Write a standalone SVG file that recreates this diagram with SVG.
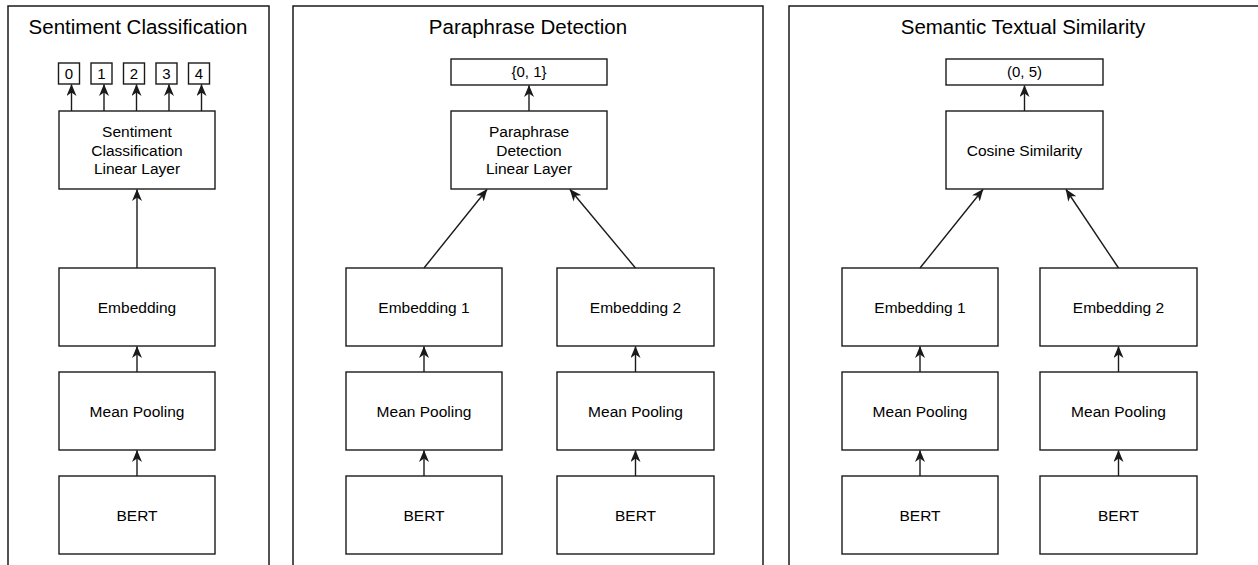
<svg xmlns="http://www.w3.org/2000/svg" width="1258" height="565" viewBox="0 0 1258 565">
<style>
.panel{fill:#fff;stroke:#1a1a1a;stroke-width:1.5}
.box{fill:#fff;stroke:#1a1a1a;stroke-width:1.4}
.t{font-family:"Liberation Sans",Arial,sans-serif;font-size:15.5px;fill:#000;text-anchor:middle}
.title{font-family:"Liberation Sans",Arial,sans-serif;font-size:20.5px;fill:#000;text-anchor:middle}
.s{font-family:"Liberation Sans",Arial,sans-serif;font-size:15px;fill:#000;text-anchor:middle}
.c{fill:none;stroke:#1a1a1a;stroke-width:1.4;marker-end:url(#ah)}
</style>
<defs>
<marker id="ah" markerUnits="userSpaceOnUse" markerWidth="12" markerHeight="10" viewBox="0 0 12 10" refX="11.5" refY="5" orient="auto">
<path d="M0,0 L12,5 L0,10 L3.5,5 z" fill="#1a1a1a"/>
</marker>
</defs>
<rect width="1258" height="565" fill="#fff"/>
<g id="panel-sentiment">
<rect class="panel" x="8" y="6" width="261" height="600"/>
<text class="title" x="138" y="34">Sentiment Classification</text>
</g>
<g id="panel-paraphrase">
<rect class="panel" x="293" y="6" width="470" height="600"/>
<text class="title" x="528" y="34">Paraphrase Detection</text>
</g>
<g id="panel-sts">
<rect class="panel" x="789" y="6" width="500" height="600"/>
<text class="title" x="1023" y="34">Semantic Textual Similarity</text>
</g>

<g id="s-out0"><rect class="box" x="58.5" y="63" width="21" height="21"/><text class="s" x="69" y="79">0</text></g>
<g id="s-out1"><rect class="box" x="91" y="63" width="21" height="21"/><text class="s" x="101.5" y="79">1</text></g>
<g id="s-out2"><rect class="box" x="123.5" y="63" width="21" height="21"/><text class="s" x="134" y="79">2</text></g>
<g id="s-out3"><rect class="box" x="156" y="63" width="21" height="21"/><text class="s" x="166.5" y="79">3</text></g>
<g id="s-out4"><rect class="box" x="188.5" y="63" width="21" height="21"/><text class="s" x="199" y="79">4</text></g>
<g id="s-linear"><rect class="box" x="59" y="111" width="156" height="78"/>
<text class="t" x="137" y="137">Sentiment</text><text class="t" x="137" y="155.5">Classification</text><text class="t" x="137" y="174">Linear Layer</text></g>
<g id="s-emb"><rect class="box" x="59" y="268" width="156" height="78"/><text class="t" x="137" y="312.5">Embedding</text></g>
<g id="s-pool"><rect class="box" x="59" y="372" width="156" height="78"/><text class="t" x="137" y="416.5">Mean Pooling</text></g>
<g id="s-bert"><rect class="box" x="59" y="476" width="156" height="78"/><text class="t" x="137" y="520.5">BERT</text></g>

<g id="p-out"><rect class="box" x="451" y="59" width="156" height="26"/><text class="s" x="529" y="77">{0, 1}</text></g>
<g id="p-linear"><rect class="box" x="451" y="111" width="156" height="78"/>
<text class="t" x="529" y="137">Paraphrase</text><text class="t" x="529" y="155.5">Detection</text><text class="t" x="529" y="174">Linear Layer</text></g>
<g id="p-emb1"><rect class="box" x="346" y="268" width="156" height="78"/><text class="t" x="424" y="312.5">Embedding 1</text></g>
<g id="p-pool1"><rect class="box" x="346" y="372" width="156" height="78"/><text class="t" x="424" y="416.5">Mean Pooling</text></g>
<g id="p-bert1"><rect class="box" x="346" y="476" width="156" height="78"/><text class="t" x="424" y="520.5">BERT</text></g>
<g id="p-emb2"><rect class="box" x="557" y="268" width="157" height="78"/><text class="t" x="635.5" y="312.5">Embedding 2</text></g>
<g id="p-pool2"><rect class="box" x="557" y="372" width="157" height="78"/><text class="t" x="635.5" y="416.5">Mean Pooling</text></g>
<g id="p-bert2"><rect class="box" x="557" y="476" width="157" height="78"/><text class="t" x="635.5" y="520.5">BERT</text></g>

<g id="t-out"><rect class="box" x="946" y="59" width="157" height="26"/><text class="s" x="1024.5" y="77">(0, 5)</text></g>
<g id="t-cos"><rect class="box" x="946" y="111" width="157" height="78"/><text class="t" x="1024.5" y="155.5">Cosine Similarity</text></g>
<g id="t-emb1"><rect class="box" x="842" y="268" width="156" height="78"/><text class="t" x="920" y="312.5">Embedding 1</text></g>
<g id="t-pool1"><rect class="box" x="842" y="372" width="156" height="78"/><text class="t" x="920" y="416.5">Mean Pooling</text></g>
<g id="t-bert1"><rect class="box" x="842" y="476" width="156" height="78"/><text class="t" x="920" y="520.5">BERT</text></g>
<g id="t-emb2"><rect class="box" x="1040" y="268" width="157" height="78"/><text class="t" x="1118.5" y="312.5">Embedding 2</text></g>
<g id="t-pool2"><rect class="box" x="1040" y="372" width="157" height="78"/><text class="t" x="1118.5" y="416.5">Mean Pooling</text></g>
<g id="t-bert2"><rect class="box" x="1040" y="476" width="157" height="78"/><text class="t" x="1118.5" y="520.5">BERT</text></g>

<g id="connectors">
<line class="c" x1="71.5" y1="111" x2="71.5" y2="84.5"/>
<line class="c" x1="104" y1="111" x2="104" y2="84.5"/>
<line class="c" x1="136.5" y1="111" x2="136.5" y2="84.5"/>
<line class="c" x1="169" y1="111" x2="169" y2="84.5"/>
<line class="c" x1="201.5" y1="111" x2="201.5" y2="84.5"/>
<line class="c" x1="137" y1="268" x2="137" y2="189.5"/>
<line class="c" x1="137" y1="372" x2="137" y2="346.5"/>
<line class="c" x1="137" y1="476" x2="137" y2="450.5"/>

<line class="c" x1="529" y1="111" x2="529" y2="85.5"/>
<line class="c" x1="424" y1="268" x2="487" y2="189.5"/>
<line class="c" x1="635.5" y1="268" x2="570" y2="189.5"/>
<line class="c" x1="424" y1="372" x2="424" y2="346.5"/>
<line class="c" x1="424" y1="476" x2="424" y2="450.5"/>
<line class="c" x1="635.5" y1="372" x2="635.5" y2="346.5"/>
<line class="c" x1="635.5" y1="476" x2="635.5" y2="450.5"/>

<line class="c" x1="1024.5" y1="111" x2="1024.5" y2="85.5"/>
<line class="c" x1="920" y1="268" x2="983" y2="189.5"/>
<line class="c" x1="1118.5" y1="268" x2="1066" y2="189.5"/>
<line class="c" x1="920" y1="372" x2="920" y2="346.5"/>
<line class="c" x1="920" y1="476" x2="920" y2="450.5"/>
<line class="c" x1="1118.5" y1="372" x2="1118.5" y2="346.5"/>
<line class="c" x1="1118.5" y1="476" x2="1118.5" y2="450.5"/>
</g>
</svg>
